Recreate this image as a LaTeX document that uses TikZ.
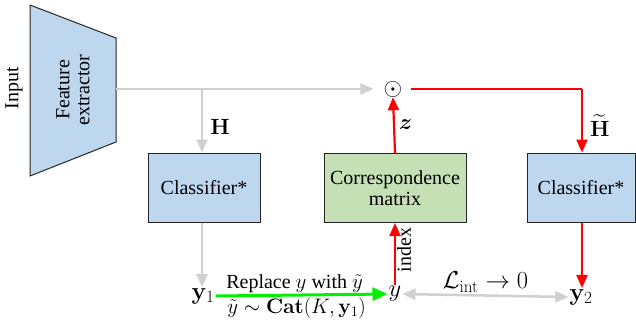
\RequirePackage{fix-cm}
\documentclass[tikz,border=0pt]{standalone}
\usepackage{amsmath,amssymb}
\usepackage[no-math]{fontspec}
\setmainfont{Liberation Serif}
\usetikzlibrary{arrows.meta,calc}
\definecolor{boxblue}{RGB}{189,215,238}
\definecolor{boxgreen}{RGB}{197,224,180}
\definecolor{lgray}{RGB}{208,208,208}
\definecolor{brightgreen}{RGB}{0,240,0}
\newcommand\mth[1]{{\fontsize{21}{24}\selectfont$#1$}}
\tikzset{
  bigtxt/.style={font=\fontsize{20}{23}\selectfont},
  blk/.style={draw=black!85, line width=1pt, minimum height=69pt, bigtxt, align=center, inner sep=2pt},
  graywire/.style={draw=lgray, line width=2.5pt, -{Triangle[length=13pt,width=11pt]}},
  redwire/.style={draw=red, line width=2.2pt, -{Triangle[length=13pt,width=11pt]}},
  lbl/.style={font=\fontsize{24.5}{27}\selectfont, inner sep=1pt},
  midlbl/.style={font=\fontsize{22}{24}\selectfont, inner sep=1pt},
  smalltxt/.style={font=\fontsize{20}{23}\selectfont, inner sep=1pt},
}
\begin{document}
\begin{tikzpicture}[x=1pt,y=-1pt]
\useasboundingbox (0,0) rectangle (636,325);
% feature extractor trapezoid
\draw[fill=boxblue, draw=black!85, line width=1pt] (30,5) -- (116,38) -- (116,142) -- (30,176) -- cycle;
\node[bigtxt, rotate=90, align=center] (fe) at (73,90) {Feature\\[-3pt]extractor};
\coordinate (feout) at (116,89);
\node[bigtxt, rotate=90] (input) at (14,88) {Input};
% odot
\node[inner sep=0pt, font=\fontsize{24}{26}\selectfont] (odot) at (393,89) {$\odot$};
% boxes
\node[blk, fill=boxblue, minimum width=112pt] (cls1) at (204,187.5) {Classifier*};
\node[blk, fill=boxgreen, minimum width=142pt] (corr) at (395,188) {Correspondence\\[-2pt]matrix};
\node[blk, fill=boxblue, minimum width=108pt] (cls2) at (581,187.5) {Classifier*};
% bottom labels
\node[lbl] (y1) at (203,296) {$\mathbf{y}_1$};
\node[lbl] (y) at (395,294) {$y$};
\node[lbl] (y2) at (581,297) {$\mathbf{y}_2$};
% wires
\coordinate (br) at (202,89);
\draw[graywire, shorten >=10pt] (feout) -- (odot.west);
\draw[graywire] (br) -- (br |- cls1.north) node[pos=0.6, right=6pt, midlbl] (H) {$\mathbf{H}$};
\draw[graywire] (cls1.south -| br) -- (y1.north -| br);
\coordinate (rc) at (582,89);
\draw[redwire, -] (odot.east) ++(8pt,0) coordinate (oe) -- (rc);
\draw[redwire] (rc) -- (rc |- cls2.north) node[pos=0.58, right=6pt, midlbl] (Ht) {$\widetilde{\mathbf{H}}$};
\draw[redwire] (cls2.south -| rc) -- (y2.north -| rc);
\draw[redwire] (corr.north) -- (odot.south) node[pos=0.5, right=3pt, midlbl] (z) {$\boldsymbol{z}$};
\draw[redwire] (y.north -| corr.south) -- (corr.south) node[pos=0.55, right=1pt, sloped, smalltxt, anchor=north] (idx) {index};
\draw[draw=brightgreen, line width=3pt, -{Triangle[length=15pt,width=13pt]}] (y1.east) -- (y.west)
  node[pos=0.5, above=0pt, xshift=-7pt, smalltxt] (rep) {Replace \mth{y} with \mth{\tilde{y}}}
  node[pos=0.5, below=0pt, xshift=-5pt, smalltxt] (cat) {\mth{\tilde{y}\sim\mathbf{Cat}(K,\mathbf{y}_1)}};
\draw[draw=lgray, line width=2.5pt, {Triangle[length=13pt,width=11pt]}-{Triangle[length=13pt,width=11pt]}] (y.east) -- (y2.west)
  node[pos=0.5, above=1pt, lbl] (L) {$\mathcal{L}_{\mathrm{int}}\rightarrow 0$};
\end{tikzpicture}
\end{document}
